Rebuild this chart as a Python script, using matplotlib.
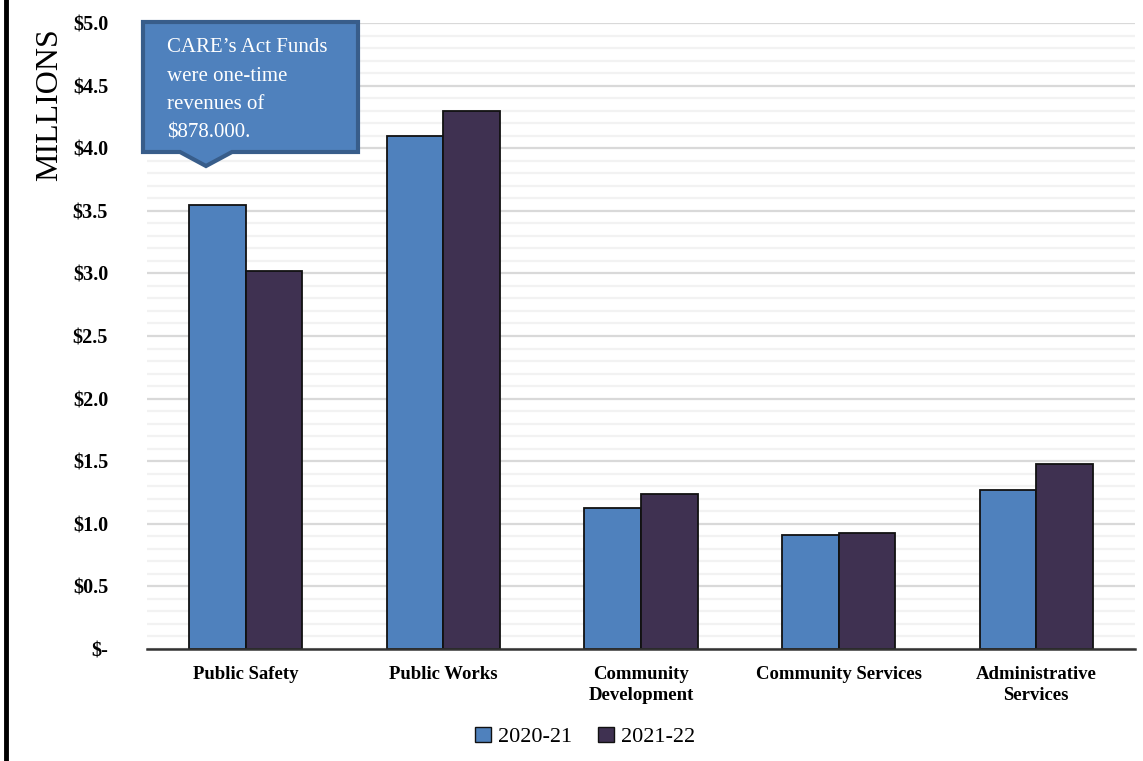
import matplotlib.pyplot as plt
import matplotlib.patches as mpatches
from matplotlib.lines import Line2D
from matplotlib.ticker import MultipleLocator, FixedLocator
import numpy as np

categories = ["Public Safety", "Public Works", "Community\nDevelopment",
              "Community Services", "Administrative\nServices"]
fy2021 = [3.55, 4.10, 1.13, 0.91, 1.27]
fy2122 = [3.02, 4.30, 1.24, 0.93, 1.48]
series_names = ["2020-21", "2021-22"]
yticks = [0, 0.5, 1.0, 1.5, 2.0, 2.5, 3.0, 3.5, 4.0, 4.5, 5.0]
ytick_labels = ["$-", "$0.5", "$1.0", "$1.5", "$2.0", "$2.5", "$3.0",
                "$3.5", "$4.0", "$4.5", "$5.0"]
note = "CARE\u2019s Act Funds\nwere one-time\nrevenues of\n$878.000."

blue = "#4F81BD"
purple = "#3F3151"
serif = ["Liberation Serif", "DejaVu Serif"]
plt.rcParams["font.family"] = serif

W, H = 1143, 761
fig = plt.figure(figsize=(W / 100, H / 100), dpi=100)
ax = fig.add_axes([147 / W, 1 - 649 / H, (1135 - 147) / W, (649 - 23) / H])

x = np.arange(len(categories))
bw = 0.286
ax.bar(x - bw / 2, fy2021, bw, color=blue, edgecolor="#111111", linewidth=1.3,
       label=series_names[0], zorder=3)
ax.bar(x + bw / 2, fy2122, bw, color=purple, edgecolor="#111111", linewidth=1.3,
       label=series_names[1], zorder=3)

ax.set_xlim(-0.5, len(categories) - 0.5)
ax.set_ylim(0, 5.0)
ax.yaxis.set_major_locator(FixedLocator(yticks))
ax.set_yticklabels(ytick_labels, fontsize=14.5, fontweight="bold")
ax.yaxis.set_minor_locator(MultipleLocator(0.1))
ax.set_xticks(x)
ax.set_xticklabels(categories, fontsize=13.5, fontweight="bold", linespacing=1.3)
ax.tick_params(axis="both", which="both", length=0)
ax.tick_params(axis="y", pad=28)
ax.tick_params(axis="x", pad=12)

ax.grid(axis="y", which="major", color="#D9D9D9", linewidth=1.6, zorder=0)
ax.grid(axis="y", which="minor", color="#F2F2F2", linewidth=1.6, zorder=0)
for s in ["top", "right", "left"]:
    ax.spines[s].set_visible(False)
ax.spines["bottom"].set_color("#333333")
ax.spines["bottom"].set_linewidth(1.8)
ax.spines["bottom"].set_zorder(4)

fig.text(50 / W, 1 - 105 / H, "MILLIONS", rotation=90, fontsize=23,
         ha="center", va="center")

# left border line
fig.add_artist(Line2D([6 / W, 6 / W], [0, 1], color="black", linewidth=3.5))

# callout
pts = [(143, 22), (358, 22), (358, 152), (232, 152), (206, 166), (180, 152), (143, 152)]
poly = mpatches.Polygon([(px / W, 1 - py / H) for px, py in pts], closed=True,
                        transform=fig.transFigure, facecolor=blue,
                        edgecolor="#385D8A", linewidth=3, zorder=10)
fig.add_artist(poly)
fig.text(167 / W, 1 - 38 / H, note, color="white", fontsize=15, va="top",
         ha="left", linespacing=1.68, zorder=11)

handles = [mpatches.Patch(facecolor=blue, edgecolor="#111111"),
           mpatches.Patch(facecolor=purple, edgecolor="#111111")]
fig.legend(handles, series_names, loc="center", ncol=2, frameon=False,
           bbox_to_anchor=(585 / W, 1 - 737 / H), fontsize=16,
           handlelength=0.7, handleheight=0.7, handletextpad=0.3,
           columnspacing=1.2)

fig.savefig("out.png", dpi=100)
